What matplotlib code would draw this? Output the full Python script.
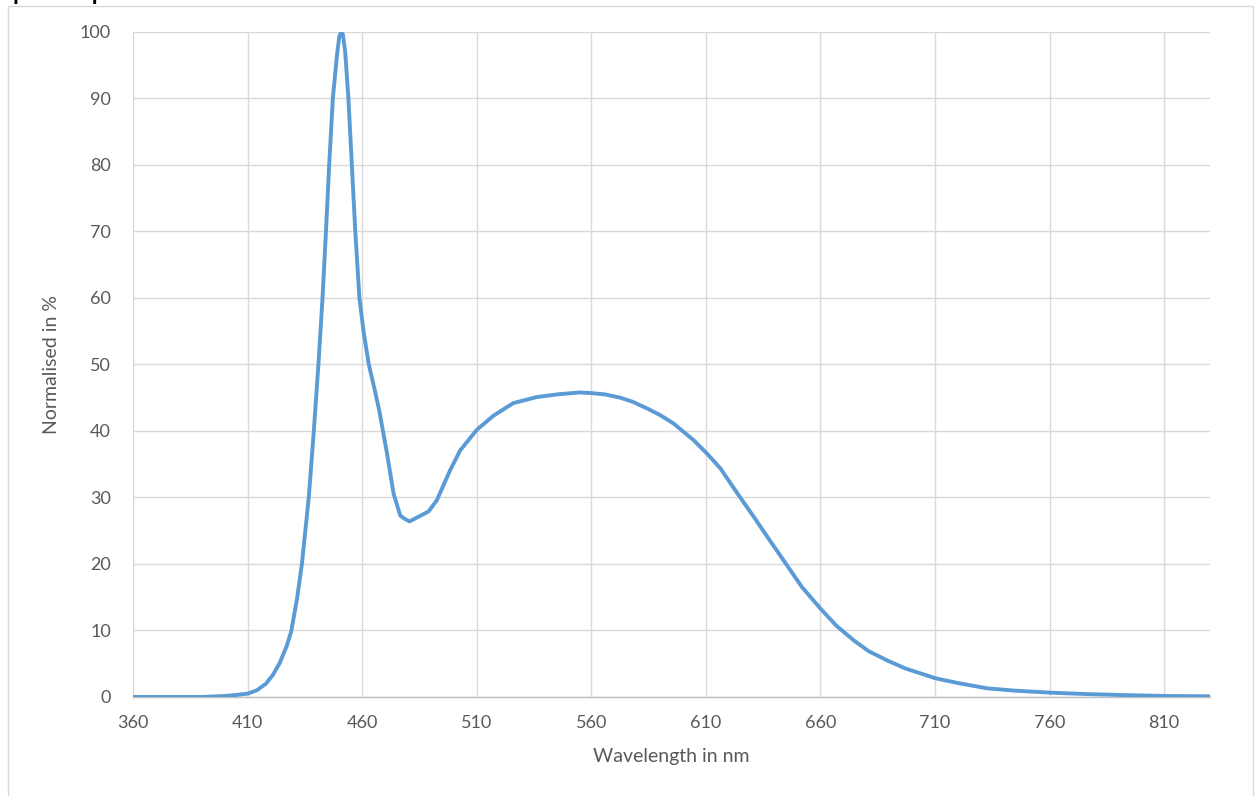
"""
Normalised emission spectrum of a white LED (blue peak + phosphor hump).
Values read off the reference chart; drawn Excel-style.
"""
import matplotlib
matplotlib.use("Agg")
import matplotlib.pyplot as plt
from matplotlib.patches import Rectangle

# ---------------------------------------------------------------------------
# DATA
# ---------------------------------------------------------------------------
wavelength_nm = [
    360, 390, 400, 405, 410, 414, 418, 421, 424, 427, 429, 431.5, 433.7,
    436.7, 438.9, 440.9, 442.7, 444.2, 445.6, 447.2, 449.0, 450.0, 450.8,
    451.6, 452.6, 454.0, 455.5, 457.0, 458.8, 460.6, 462.9, 465.6, 467.5,
    470.8, 473.7, 476.6, 478.5, 480.7, 484, 489, 492.6, 498.4, 502.8, 510.1,
    517.3, 526, 536.2, 545, 555, 560, 566, 572.7, 578, 584.3, 590, 596,
    604.7, 610.5, 616.3, 623.8, 630.9, 637, 645.4, 652, 660, 667, 674.6,
    681, 689.1, 697, 710.3, 720, 732.7, 745, 760.4, 775, 791, 810, 830,
]
normalised_pct = [
    0.0, 0.0, 0.15, 0.3, 0.5, 1.0, 2.0, 3.3, 5.1, 7.6, 9.8, 14.6, 20.0,
    30.0, 40.0, 50.0, 60.0, 70.0, 80.0, 90.0, 96.5, 99.3, 100.0,
    99.6, 97.0, 90.0, 80.0, 70.0, 60.0, 55.0, 50.0, 46.0, 43.0,
    36.7, 30.6, 27.3, 26.8, 26.4, 27.0, 27.9, 29.6, 34.1, 37.1, 40.2,
    42.3, 44.2, 45.1, 45.5, 45.8, 45.7, 45.5, 45.0, 44.4, 43.4, 42.4, 41.1,
    38.6, 36.6, 34.4, 30.6, 27.1, 24.0, 19.8, 16.5, 13.3, 10.7, 8.5,
    6.9, 5.5, 4.3, 2.8, 2.1, 1.3, 0.95, 0.65, 0.45, 0.3, 0.15, 0.1,
]

x_ticks = [360, 410, 460, 510, 560, 610, 660, 710, 760, 810]
y_ticks = [0, 10, 20, 30, 40, 50, 60, 70, 80, 90, 100]

TITLE = "Spectral power distribution"
X_LABEL = "Wavelength in nm"
Y_LABEL = "Normalised in %"

# ---------------------------------------------------------------------------
# STYLE
# ---------------------------------------------------------------------------
LINE_COLOR = "#5B9BD5"
GRID_COLOR = "#D9D9D9"
TEXT_COLOR = "#595959"
plt.rcParams["font.family"] = ["Lato", "DejaVu Sans"]

fig = plt.figure(figsize=(12.55, 7.96), dpi=100)
ax = fig.add_axes([0.106, 0.1244, 0.8581, 0.8354])

# chart-area border, like the Excel chart frame
fig.patches.append(Rectangle((0.0064, -0.01), 0.992, 1.0025,
                             transform=fig.transFigure, fill=False,
                             edgecolor="#D9D9D9", linewidth=1.0))

# title sits on the page above the chart; only its descenders show
fig.text(0.0, 1.0, TITLE, fontsize=17, fontweight="bold",
         color="black", ha="left", va="baseline")

ax.plot(wavelength_nm, normalised_pct, color=LINE_COLOR, linewidth=2.8,
        solid_joinstyle="round", zorder=3)

ax.set_xlim(360, 830)
ax.set_ylim(0, 100)
ax.set_xticks(x_ticks)
ax.set_yticks(y_ticks)
ax.grid(True, color=GRID_COLOR, linewidth=1.0)
ax.set_axisbelow(True)

for side in ["top", "right", "left"]:
    ax.spines[side].set_visible(False)
ax.spines["bottom"].set_color("#BFBFBF")
ax.spines["bottom"].set_linewidth(1.0)

ax.tick_params(axis="both", length=0, labelsize=13, labelcolor=TEXT_COLOR)
ax.tick_params(axis="y", pad=16)
ax.tick_params(axis="x", pad=13)

ax.set_xlabel(X_LABEL, fontsize=14, color=TEXT_COLOR, labelpad=12)
ax.set_ylabel(Y_LABEL, fontsize=14, color=TEXT_COLOR, labelpad=14)

plt.savefig("out.png", dpi=100)
plt.close()
